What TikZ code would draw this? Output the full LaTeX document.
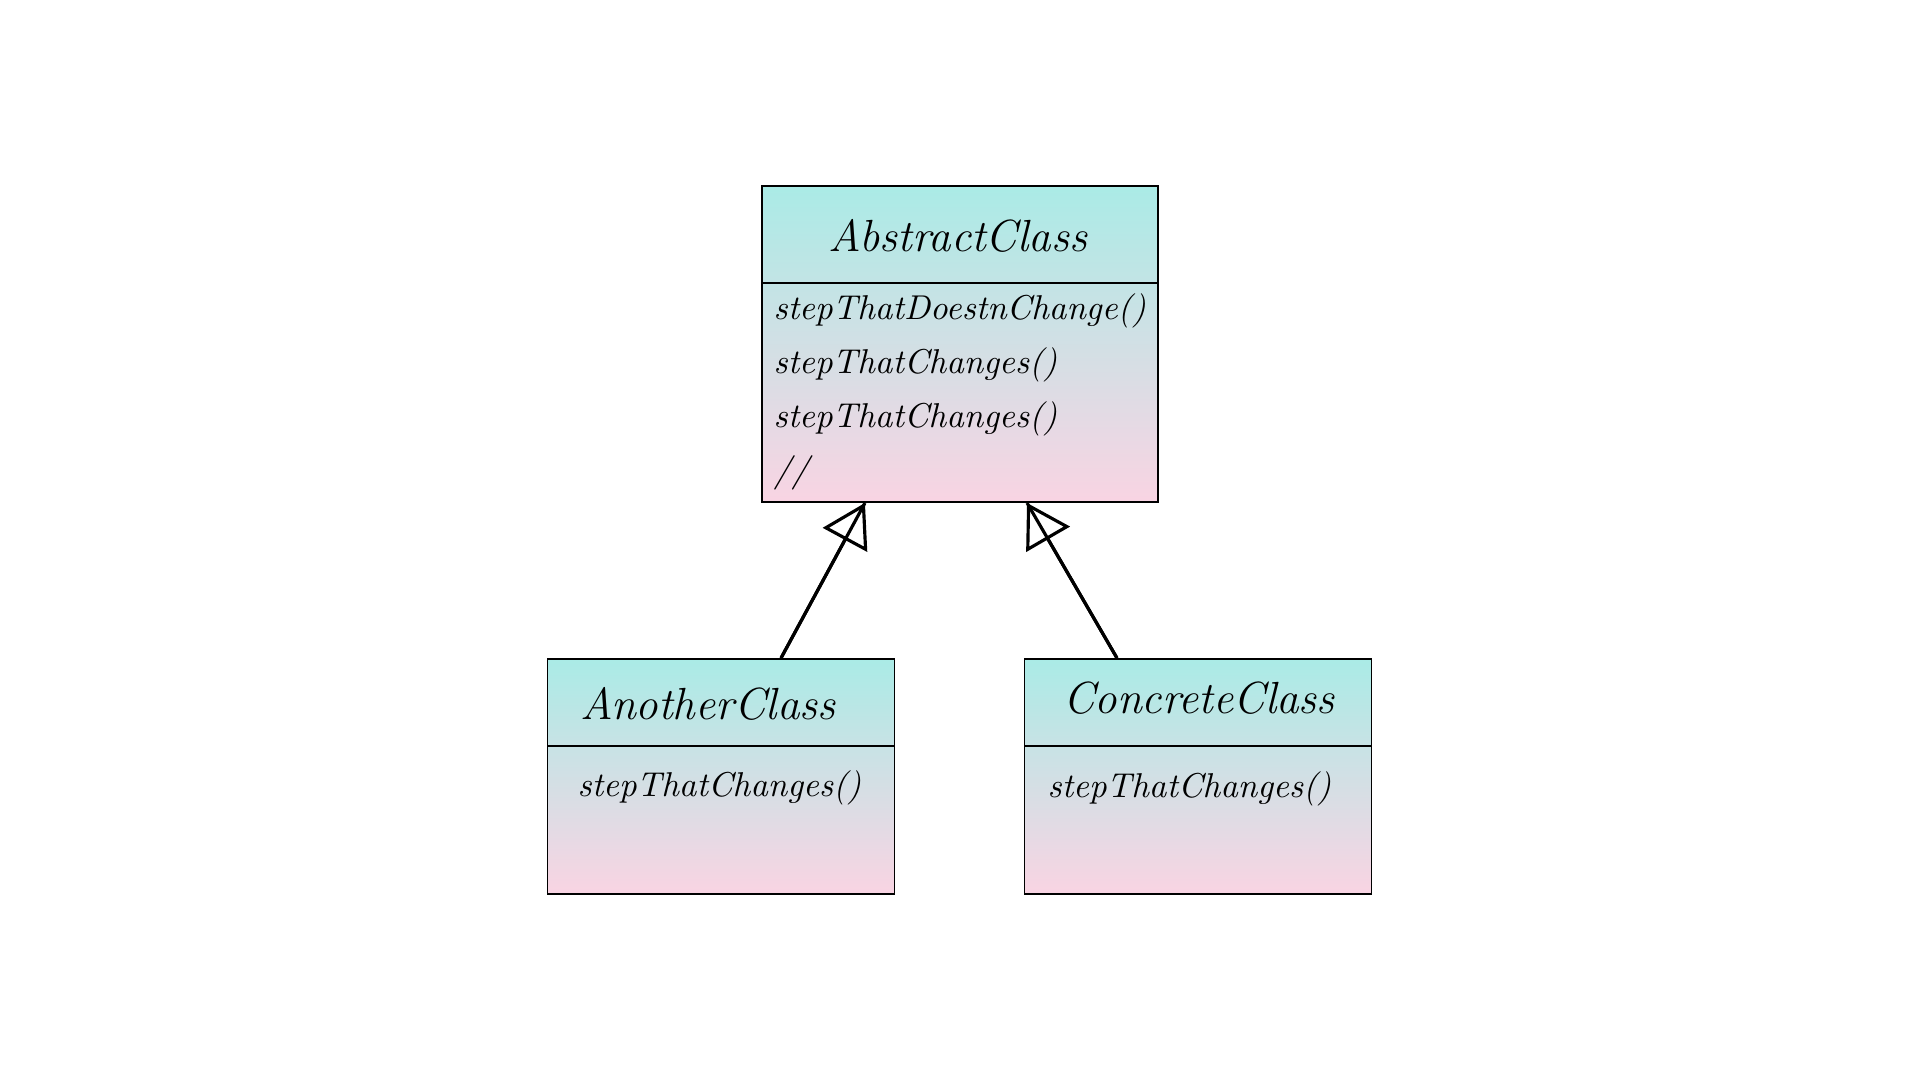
\documentclass[tikz,border=0pt]{standalone}
\usetikzlibrary{arrows.meta}

\definecolor{clsTop}{RGB}{170,235,230}
\definecolor{clsBottom}{RGB}{249,212,227}

\tikzset{
  classbox/.style={draw=black, line width=0.5pt, top color=clsTop, bottom color=clsBottom,
    minimum width=3.47cm, minimum height=2.35cm, inner sep=0pt},
  classname/.style={font=\fontsize{12.8}{15}\selectfont\itshape, inner sep=0pt, anchor=base},
  method/.style={font=\fontsize{9.8}{12}\selectfont\itshape, inner sep=0pt, anchor=base west},
  inherit/.style={line width=0.9pt, -{Triangle[open, length=0.42cm, width=0.5cm, line width=0.9pt]}}
}

\begin{document}
\begin{tikzpicture}[x=0.01cm, y=-0.01cm]
   \useasboundingbox (0,0) rectangle (1920,1080);

   % the abstract class
   \node[classbox, minimum width=3.96cm, minimum height=3.16cm] (abstract) at (960,344) {};
   \draw[line width=0.5pt] (762,283) -- (1158,283);
   \node[classname] (abstractName) at (958,252) {AbstractClass};
   \node[method] (abstractM1) at (773,320) {stepThatDoestnChange()};
   \node[method] (abstractM2) at (773,374) {stepThatChanges()};
   \node[method] (abstractM3) at (773,428) {stepThatChanges()};
   \node[method] (abstractM4) at (773,482) {//};

   % the two subclasses
   \node[classbox] (another) at (721,776.5) {};
   \draw[line width=0.5pt] (547,746) -- (894,746);
   \node[classname] (anotherName) at (708,720) {AnotherClass};
   \node[method] (anotherM1) at (577,797) {stepThatChanges()};

   \node[classbox] (concrete) at (1198,776.5) {};
   \draw[line width=0.5pt] (1025,746) -- (1371,746);
   \node[classname] (concreteName) at (1199,714) {ConcreteClass};
   \node[method] (concreteM1) at (1047,798) {stepThatChanges()};

   % inheritance
   \draw[line width=0.9pt] ([xshift=0.6cm]another.north) -- ([xshift=-0.95cm]abstract.south);
   \draw[inherit] ([xshift=0.6cm]another.north) -- ([xshift=-0.95cm]abstract.south);
   \draw[line width=0.9pt] ([xshift=-0.81cm]concrete.north) -- ([xshift=0.67cm]abstract.south);
   \draw[inherit] ([xshift=-0.81cm]concrete.north) -- ([xshift=0.67cm]abstract.south);

\end{tikzpicture}
\end{document}
